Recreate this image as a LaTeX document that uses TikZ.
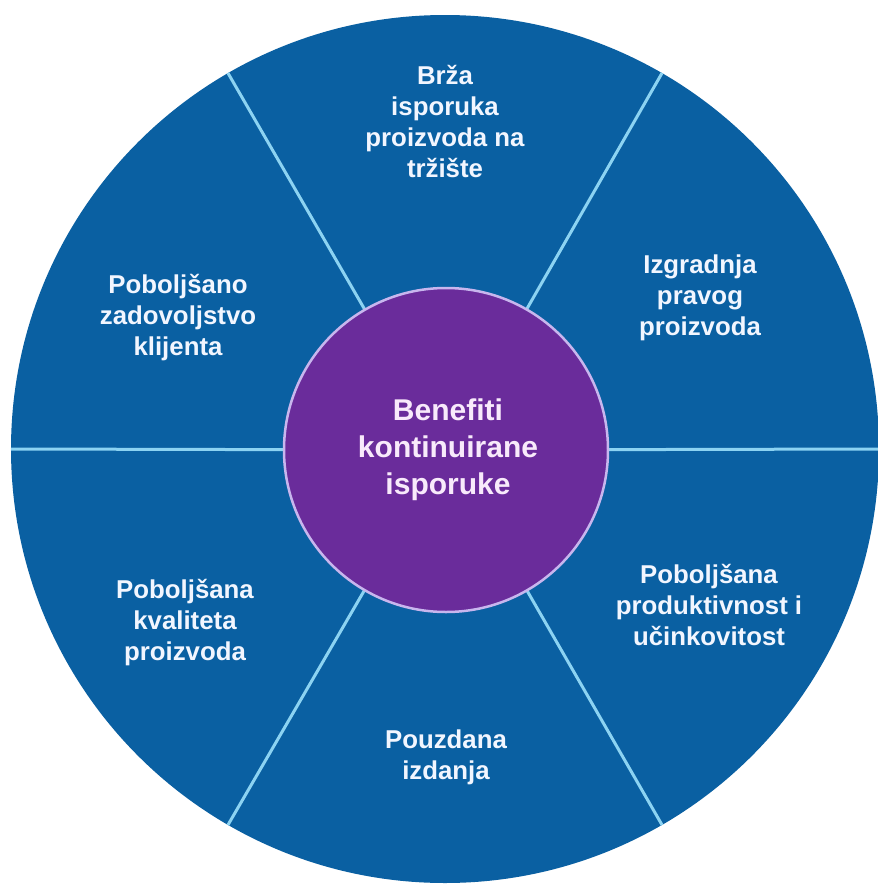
\documentclass[tikz,border=0pt]{standalone}
\usepackage{fontspec}
\setmainfont{Liberation Sans}
\definecolor{wheelblue}{HTML}{0A60A2}
\definecolor{hubpurple}{HTML}{6A2C9B}
\definecolor{spoke}{HTML}{8CD3F2}
\definecolor{hubring}{HTML}{C8B6EE}
\definecolor{outtext}{HTML}{F2F6FF}
\definecolor{hubtxt}{HTML}{F8EAFB}
\pgfdeclarelayer{back}
\pgfdeclarelayer{mid}
\pgfsetlayers{back,mid,main}
\begin{document}
\begin{tikzpicture}[x=1pt,y=-1pt,
  wheel/.style={circle, fill=wheelblue, minimum size=868pt, inner sep=0pt},
  hub/.style={circle, fill=hubpurple, draw=hubring, line width=2.5pt, minimum size=324pt, inner sep=0pt},
  divider/.style={draw=spoke, line width=3pt},
  benefit/.style={text=outtext, font=\fontsize{25.8}{31}\selectfont\bfseries, align=center, inner sep=0pt},
  hubtext/.style={text=hubtxt, font=\fontsize{30}{37}\selectfont\bfseries, align=center, inner sep=0pt}]
\useasboundingbox (0,0) rectangle (878,884);
\begin{pgfonlayer}{back}
\node[wheel] (wheel) at (445,449) {};
\end{pgfonlayer}
\node[hub] (hub) at (446,450) {};
\begin{pgfonlayer}{mid}
\foreach \a in {0,60,120,180,240,300}
  \draw[divider] (hub.center) -- (wheel.\a);
\end{pgfonlayer}
\node[hubtext] (title) at (448,450) {Benefiti\\kontinuirane\\isporuke};
\node[benefit] (b1) at (445,121) {Brža\\isporuka\\proizvoda na\\tržište};
\node[benefit] (b2) at (700,298) {Izgradnja\\pravog\\proizvoda};
\node[benefit] (b3) at (709,605) {Poboljšana\\produktivnost i\\učinkovitost};
\node[benefit] (b4) at (446,757) {Pouzdana\\izdanja};
\node[benefit] (b5) at (185,623) {Poboljšana\\kvaliteta\\proizvoda};
\node[benefit] (b6) at (178,318) {Poboljšano\\zadovoljstvo\\klijenta};
\end{tikzpicture}
\end{document}
